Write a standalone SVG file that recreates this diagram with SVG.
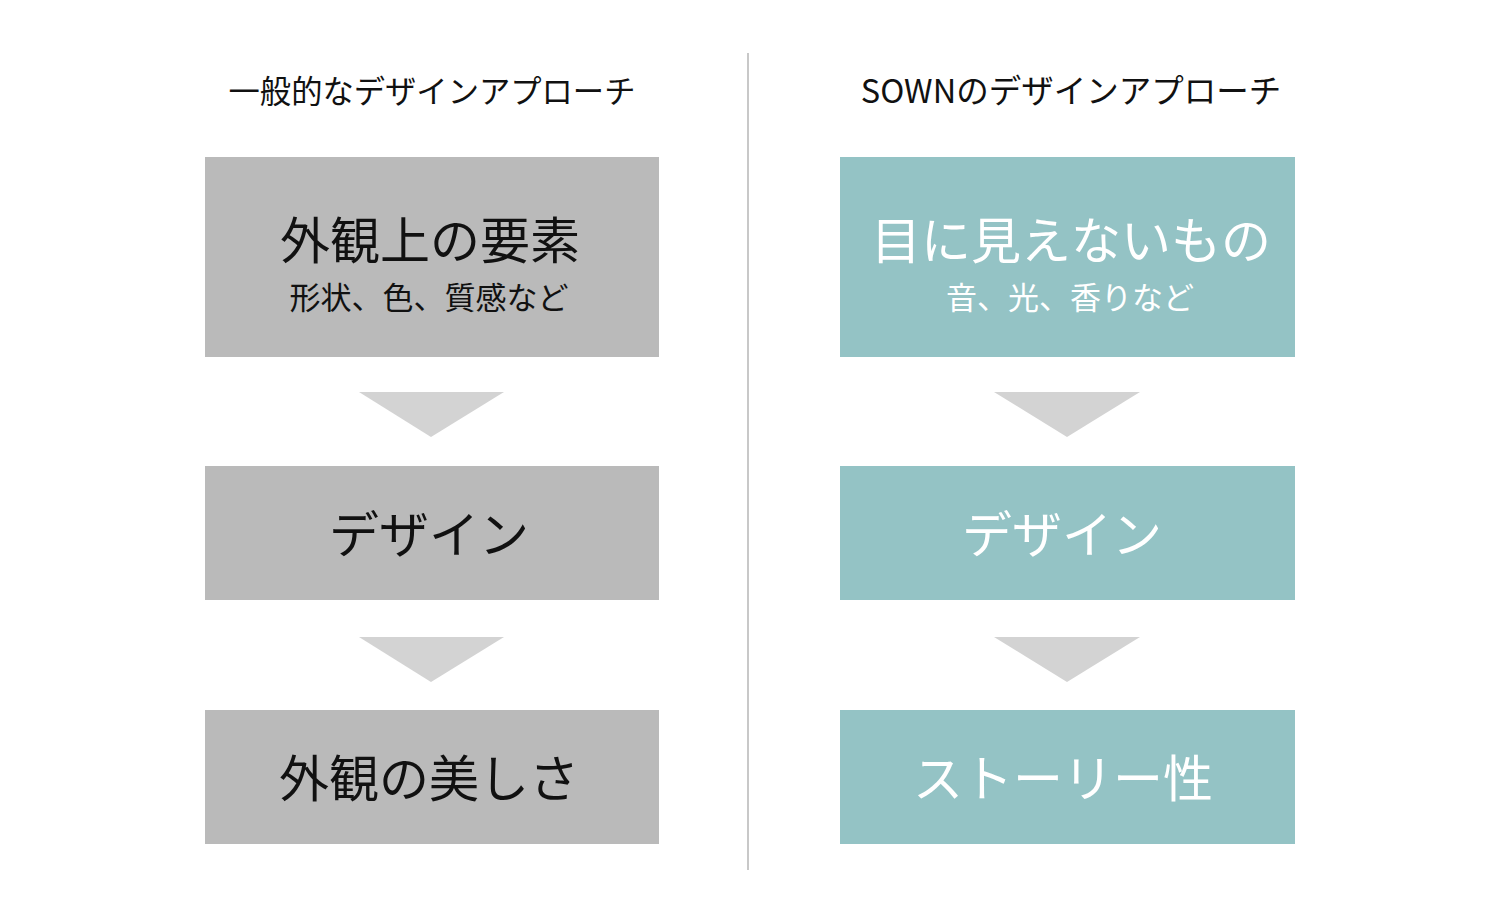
<svg xmlns="http://www.w3.org/2000/svg" width="1500" height="909" viewBox="0 0 1500 909">
<style>
text{font-family:"Noto Sans CJK JP","Noto Sans",sans-serif;text-anchor:middle}
.t{font-size:31.3px;fill:#111}
.g{fill:#bababa}
.c{fill:#94c3c5}
.a{fill:#d3d3d3}
.bk{fill:#111}
.wh{fill:#ffffff}
.big{font-size:50px}
.sub{font-size:31px}
</style>
<rect width="1500" height="909" fill="#fff"/>
<line x1="748" y1="53" x2="748" y2="870" stroke="#c8c8c8" stroke-width="2"/>
<text class="t" x="432" y="103">一般的なデザインアプローチ</text>
<text class="t" x="1071" y="103" style="font-size:32.5px">SOWNのデザインアプローチ</text>
<g id="left1"><rect class="g" x="205" y="157" width="454" height="200"/><text class="big bk" x="430" y="259">外観上の要素</text><text class="sub bk" x="429" y="309">形状、色、質感など</text></g>
<g id="left2"><rect class="g" x="205" y="466" width="454" height="134"/><text class="big bk" x="429" y="553">デザイン</text></g>
<g id="left3"><rect class="g" x="205" y="710" width="454" height="134"/><text class="big bk" x="429" y="797">外観の美しさ</text></g>
<g id="right1"><rect class="c" x="840" y="157" width="455" height="200"/><text class="big wh" x="1071" y="259">目に見えないもの</text><text class="sub wh" x="1070" y="309">音、光、香りなど</text></g>
<g id="right2"><rect class="c" x="840" y="466" width="455" height="134"/><text class="big wh" x="1062" y="553">デザイン</text></g>
<g id="right3"><rect class="c" x="840" y="710" width="455" height="134"/><text class="big wh" x="1063" y="797">ストーリー性</text></g>
<g id="connectors">
<polygon class="a" points="359,392 504,392 431,437"/>
<polygon class="a" points="359,637 504,637 431,682"/>
<polygon class="a" points="994,392 1140,392 1067,437"/>
<polygon class="a" points="994,637 1140,637 1067,682"/>
</g>
</svg>
